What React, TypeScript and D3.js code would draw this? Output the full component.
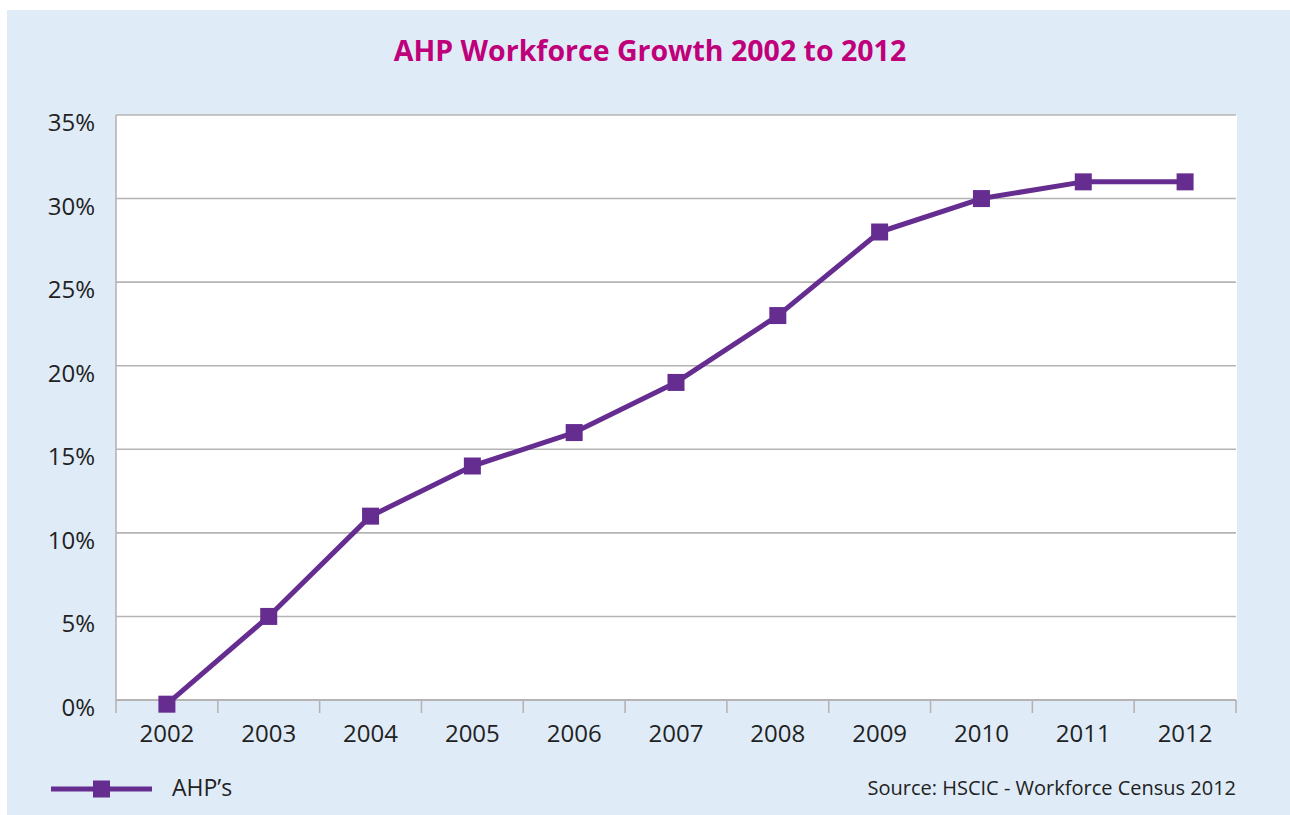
import React, { useEffect, useRef } from "react";
import * as d3 from "d3";

const years = ["2002", "2003", "2004", "2005", "2006", "2007", "2008", "2009", "2010", "2011", "2012"];
const growth = [-0.25, 5, 11, 14, 16, 19, 23, 28, 30, 31, 31];
const yTicks = [0, 5, 10, 15, 20, 25, 30, 35];
const seriesName = "AHP\u2019s";
const titleText = "AHP Workforce Growth 2002 to 2012";
const sourceText = "Source: HSCIC - Workforce Census 2012";

const W = 1290;
const H = 815;
const FONT = "'Open Sans', 'Noto Sans', sans-serif";
const PURPLE = "#662D91";

export default function App() {
  const ref = useRef<SVGSVGElement>(null);

  useEffect(() => {
    const svg = d3.select(ref.current);
    svg.selectAll("*").remove();

    const left = 116, right = 1236, top = 115, bottom = 700;

    svg.append("rect").attr("x", 0).attr("y", 0).attr("width", W).attr("height", H).attr("fill", "#ffffff");
    svg.append("rect").attr("x", 7).attr("y", 10).attr("width", W - 7).attr("height", H - 10).attr("fill", "#DFECF8");

    svg.append("text")
      .attr("x", 650).attr("y", 61)
      .attr("text-anchor", "middle")
      .attr("font-family", FONT).attr("font-weight", 700).attr("font-size", 28.5)
      .attr("fill", "#C0007A")
      .text(titleText);

    const x = d3.scaleBand<string>().domain(years).range([left, right]);
    const y = d3.scaleLinear().domain([0, 35]).range([bottom, top]);

    svg.append("rect").attr("x", left).attr("y", top).attr("width", right - left + 1).attr("height", bottom - top).attr("fill", "#ffffff");

    // gridlines
    svg.append("g").selectAll("line").data(yTicks.filter(t => t > 0)).join("line")
      .attr("x1", left).attr("x2", right)
      .attr("y1", d => y(d)).attr("y2", d => y(d))
      .attr("stroke", "#B4B4B4").attr("stroke-width", 1.6);

    // y axis line
    svg.append("line").attr("x1", left).attr("x2", left).attr("y1", top).attr("y2", bottom)
      .attr("stroke", "#B4B4B4").attr("stroke-width", 1.6);

    // x axis line
    svg.append("line").attr("x1", left).attr("x2", right).attr("y1", bottom).attr("y2", bottom)
      .attr("stroke", "#B4B4B4").attr("stroke-width", 2);

    // x ticks at band boundaries
    const bounds = years.map(yr => x(yr) as number).concat([right]);
    svg.append("g").selectAll("line").data(bounds).join("line")
      .attr("x1", d => d).attr("x2", d => d)
      .attr("y1", bottom).attr("y2", bottom + 13)
      .attr("stroke", "#B4B4B4").attr("stroke-width", 1.6);

    // y labels
    svg.append("g").selectAll("text").data(yTicks).join("text")
      .attr("x", 95).attr("y", d => y(d) + 16)
      .attr("text-anchor", "end")
      .attr("font-family", FONT).attr("font-size", 24).attr("fill", "#222222")
      .text(d => `${d}%`);

    // x labels
    svg.append("g").selectAll("text").data(years).join("text")
      .attr("x", d => (x(d) as number) + x.bandwidth() / 2).attr("y", 742)
      .attr("text-anchor", "middle")
      .attr("font-family", FONT).attr("font-size", 24).attr("fill", "#222222")
      .text(d => d);

    const pts = years.map((yr, i) => [(x(yr) as number) + x.bandwidth() / 2, y(growth[i])] as [number, number]);
    svg.append("path")
      .attr("d", d3.line()(pts))
      .attr("fill", "none").attr("stroke", PURPLE).attr("stroke-width", 5)
      .attr("stroke-linejoin", "round");

    const ms = 17;
    svg.append("g").selectAll("rect").data(pts).join("rect")
      .attr("x", d => d[0] - ms / 2).attr("y", d => d[1] - ms / 2)
      .attr("width", ms).attr("height", ms).attr("fill", PURPLE);

    // legend
    svg.append("line").attr("x1", 51).attr("x2", 152).attr("y1", 789).attr("y2", 789)
      .attr("stroke", PURPLE).attr("stroke-width", 5);
    svg.append("rect").attr("x", 101.5 - ms / 2).attr("y", 789 - ms / 2).attr("width", ms).attr("height", ms).attr("fill", PURPLE);
    svg.append("text").attr("x", 172).attr("y", 796)
      .attr("font-family", FONT).attr("font-size", 23).attr("fill", "#222222")
      .text(seriesName);

    svg.append("text").attr("x", 1236).attr("y", 795)
      .attr("text-anchor", "end")
      .attr("font-family", FONT).attr("font-size", 20).attr("fill", "#222222")
      .text(sourceText);
  }, []);

  return (
    <svg ref={ref} width={W} height={H} style={{ position: "fixed", left: 0, top: 0, display: "block" }} />
  );
}
